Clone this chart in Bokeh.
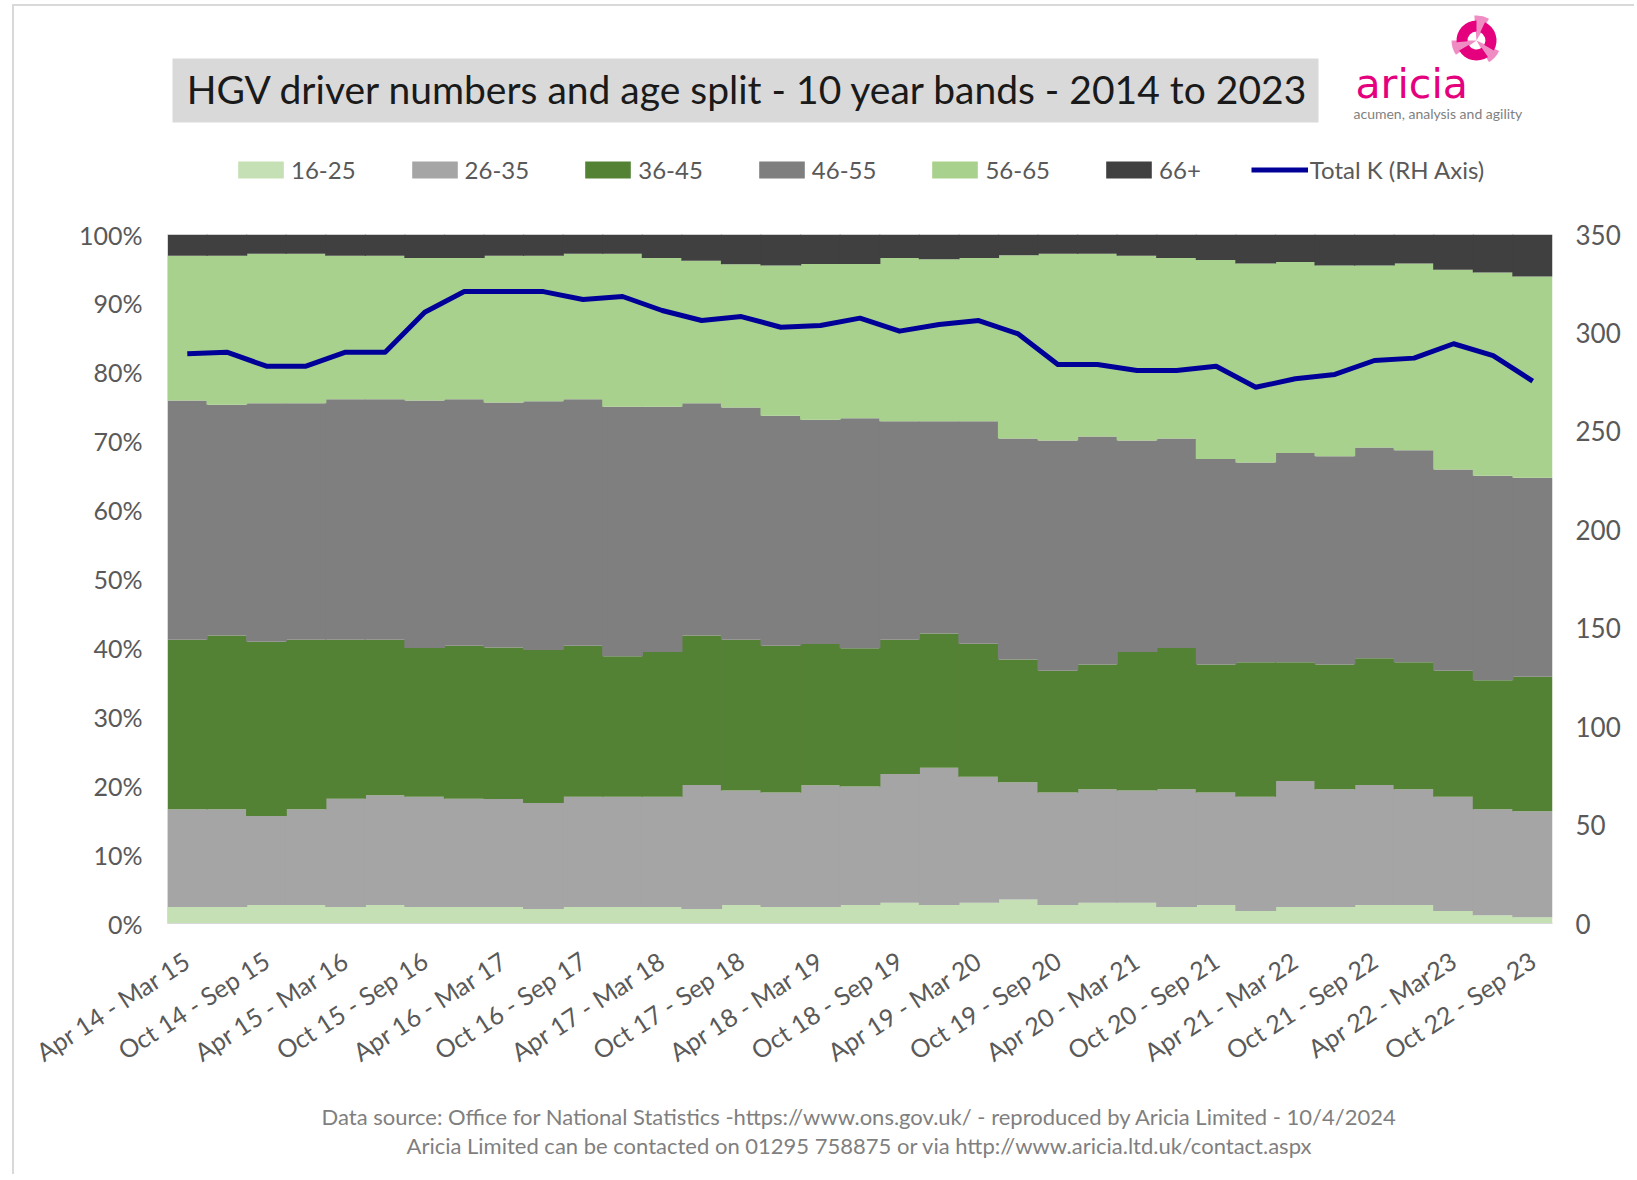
import math
from bokeh.plotting import figure
from bokeh.layouts import column
from bokeh.models import (ColumnDataSource, Range1d, LinearAxis, FixedTicker,
                          PrintfTickFormatter, Legend, LegendItem)
from bokeh.core.properties import value
from bokeh.embed import file_html
from bokeh.resources import INLINE

# ---------------- data ----------------
periods = ["Apr 14 - Mar 15", "Jul 14 - Jun 15", "Oct 14 - Sep 15", "Jan 15 - Dec 15",
           "Apr 15 - Mar 16", "Jul 15 - Jun 16", "Oct 15 - Sep 16", "Jan 16 - Dec 16",
           "Apr 16 - Mar 17", "Jul 16 - Jun 17", "Oct 16 - Sep 17", "Jan 17 - Dec 17",
           "Apr 17 - Mar 18", "Jul 17 - Jun 18", "Oct 17 - Sep 18", "Jan 18 - Dec 18",
           "Apr 18 - Mar 19", "Jul 18 - Jun 19", "Oct 18 - Sep 19", "Jan 19 - Dec 19",
           "Apr 19 - Mar 20", "Jul 19 - Jun 20", "Oct 19 - Sep 20", "Jan 20 - Dec 20",
           "Apr 20 - Mar 21", "Jul 20 - Jun 21", "Oct 20 - Sep 21", "Jan 21 - Dec 21",
           "Apr 21 - Mar 22", "Jul 21 - Jun 22", "Oct 21 - Sep 22", "Jan 22 - Dec 22",
           "Apr 22 - Mar23", "Jul 22 - Jun 23", "Oct 22 - Sep 23"]

age_16_25 = [2.4, 2.4, 2.7, 2.7, 2.4, 2.7, 2.4, 2.4, 2.4, 2.1, 2.4, 2.4, 2.4, 2.1, 2.7, 2.4, 2.4, 2.7,
             3.0, 2.7, 3.0, 3.5, 2.7, 3.0, 3.0, 2.4, 2.7, 1.8, 2.4, 2.4, 2.7, 2.7, 1.8, 1.2, 0.9]
age_26_35 = [14.2, 14.2, 12.9, 13.9, 15.7, 15.9, 16.0, 15.7, 15.7, 15.4, 16.0, 16.0, 16.0, 18.0, 16.6,
             16.6, 17.7, 17.2, 18.7, 19.9, 18.3, 17.0, 16.3, 16.5, 16.3, 17.1, 16.3, 16.6, 18.3, 17.1,
             17.4, 16.8, 16.6, 15.4, 15.4]
age_36_45 = [24.6, 25.2, 25.3, 24.6, 23.1, 22.6, 21.6, 22.2, 22.0, 22.2, 21.9, 20.4, 21.0, 21.7, 21.9,
             21.3, 20.5, 20.1, 19.5, 19.5, 19.3, 17.8, 17.7, 18.1, 20.1, 20.5, 18.6, 19.5, 17.2, 18.1,
             18.4, 18.4, 18.3, 18.7, 19.5]
age_46_55 = [34.7, 33.5, 34.6, 34.3, 34.9, 34.9, 35.9, 35.8, 35.6, 36.1, 35.8, 36.2, 35.6, 33.7, 33.7,
             33.4, 32.6, 33.4, 31.7, 30.8, 32.3, 32.1, 33.4, 33.1, 30.7, 30.4, 29.8, 29.0, 30.4, 30.2,
             30.6, 30.8, 29.2, 29.7, 28.9]
age_56_65 = [21.0, 21.6, 21.7, 21.7, 20.8, 20.8, 20.7, 20.5, 21.3, 21.1, 21.1, 22.2, 21.6, 20.7, 20.8,
             21.8, 22.6, 22.4, 23.7, 23.5, 23.7, 26.6, 27.1, 26.5, 26.8, 26.2, 28.9, 28.9, 27.7, 27.7,
             26.4, 27.1, 29.0, 29.5, 29.2]
age_66_plus = [3.1, 3.1, 2.8, 2.8, 3.1, 3.1, 3.4, 3.4, 3.1, 3.1, 2.8, 2.8, 3.4, 3.8, 4.3, 4.5, 4.3, 4.3,
               3.4, 3.6, 3.4, 3.0, 2.8, 2.8, 3.1, 3.4, 3.7, 4.2, 4.0, 4.5, 4.5, 4.2, 5.1, 5.5, 6.1]
total_k = [289.4, 290.2, 283.1, 283.1, 290.2, 290.2, 310.5, 321.0, 321.0, 321.0, 317.0, 318.5, 311.4,
           306.3, 308.3, 302.9, 303.8, 307.5, 300.9, 304.3, 306.3, 299.5, 284.0, 284.0, 280.9, 280.9,
           283.1, 272.4, 276.7, 278.9, 286.0, 287.2, 294.5, 288.5, 275.5]

band_names = ["16-25", "26-35", "36-45", "46-55", "56-65", "66+"]
band_values = [age_16_25, age_26_35, age_36_45, age_46_55, age_56_65, age_66_plus]
band_colors = ["#c5e0b4", "#a5a5a5", "#548235", "#7f7f7f", "#a9d18e", "#404040"]
line_label = "Total K (RH Axis)"
line_color = "#000099"
pct_ticks = [0, 10, 20, 30, 40, 50, 60, 70, 80, 90, 100]
k_ticks = [0, 50, 100, 150, 200, 250, 300, 350]

title_text = "HGV driver numbers and age split - 10 year bands - 2014 to 2023"
foot_1 = ("Data source: Office for National Statistics -https://www.ons.gov.uk/ - "
          "reproduced by Aricia Limited - 10/4/2024")
foot_2 = "Aricia Limited can be contacted on 01295 758875 or via http://www.aricia.ltd.uk/contact.aspx"

# ---------------- build (100% stacked) ----------------
n = len(periods)
data = {"x": list(range(n)), "total": total_k}
sums = [sum(v[i] for v in band_values) for i in range(n)]
for name, vals in zip(band_names, band_values):
    data[name] = [vals[i] / sums[i] * 100.0 for i in range(n)]
source = ColumnDataSource(data)

FONT = "Lato"
TICK_COL = "#595959"
W = 1620
HH, HM, HF = 194, 885, 89
FRAME_L, FRAME_R = 167, 1552   # page x of the (aligned) plot frames


def plain_fig(height):
    # x data units == page pixels (frames are aligned with the main chart frame)
    f = figure(width=W, height=height, output_backend="svg", toolbar_location=None,
               x_range=Range1d(FRAME_L, FRAME_R), y_range=Range1d(0, height),
               x_axis_type=None, y_axis_type=None,
               min_border_left=0, min_border_right=0, min_border_top=0, min_border_bottom=0,
               background_fill_color="white", border_fill_color="white")
    f.outline_line_color = None
    return f


# ---------------- header: title box, logo, legend (y data = 200 - page y) ----------------
hdr = plain_fig(HH)
hdr.quad(left=[172], right=[1318], top=[142], bottom=[78], fill_color="#d9d9d9", line_color=None)
hdr.text(x=[748], y=[112], text=[title_text], text_font=value(FONT), text_font_size="39px",
         text_color="#1a1a1a", text_align="center", text_baseline="middle")

# logo swirl
cx, cy = 1476, 160
hdr.wedge(x=[cx, cx, cx], y=[cy, cy, cy], radius=25,
          start_angle=[math.radians(a) for a in (60, 180, 300)],
          end_angle=[math.radians(a) for a in (95, 215, 335)],
          fill_color="#f08cc4", line_color=None)
hdr.annular_wedge(x=[cx, cx, cx], y=[cy, cy, cy], inner_radius=9, outer_radius=20,
                  start_angle=[math.radians(a) for a in (90, 210, 330)],
                  end_angle=[math.radians(a) for a in (185, 305, 425)],
                  fill_color="#e5007e", line_color=None)
hdr.text(x=[1355], y=[117], text=["aricia"], text_font=value("DejaVu Sans"), text_font_size="41px",
         text_color="#e5007e", text_align="left", text_baseline="alphabetic")
hdr.text(x=[1353], y=[87], text=["acumen, analysis and agility"], text_font=value(FONT),
         text_font_size="14px", text_color="#7f7f7f", text_align="left", text_baseline="middle")

# legend swatches (one hidden point each, off-frame, so the legend can draw them)
leg_rs = [hdr.vbar(x=[0], top=[0], bottom=[0], width=1, fill_color=c, line_color=None)
          for c in band_colors]
leg_line = hdr.line(x=[0, 1], y=[0, 0], line_color=line_color, line_width=5)
items = [LegendItem(label=nm, renderers=[r]) for nm, r in zip(band_names, leg_rs)]
items.append(LegendItem(label=line_label, renderers=[leg_line]))
legend = Legend(items=items, location=(65, 16), orientation="horizontal",
                glyph_width=57, glyph_height=21, label_standoff=2, spacing=50,
                padding=0, margin=0, border_line_color=None, background_fill_alpha=0,
                label_text_font=FONT, label_text_font_size="24px", label_text_color=TICK_COL)
hdr.add_layout(legend)

# ---------------- main chart ----------------
p = figure(width=W, height=HM, output_backend="svg", toolbar_location=None,
           x_range=Range1d(-0.5, n - 0.5), y_range=Range1d(0, 100),
           min_border_left=153, min_border_right=82, min_border_top=34, min_border_bottom=162,
           background_fill_color="white", border_fill_color="white")
p.outline_line_color = None
p.xgrid.visible = False
p.ygrid.visible = False
p.extra_y_ranges = {"k": Range1d(0, 350)}

p.vbar_stack(band_names, x="x", width=1.03, fill_color=band_colors, line_color=None, source=source)
p.line(x="x", y="total", source=source, y_range_name="k",
       line_color=line_color, line_width=5, line_join="round")

yax = p.yaxis[0]
yax.ticker = FixedTicker(ticks=pct_ticks)
yax.formatter = PrintfTickFormatter(format="%d%%")
yax.axis_line_color = "#d9d9d9"
yax.major_tick_line_color = None
yax.minor_tick_line_color = None
yax.major_tick_out = 0
yax.major_label_standoff = 25
yax.major_label_text_font = FONT
yax.major_label_text_font_size = "25px"
yax.major_label_text_color = TICK_COL

rax = LinearAxis(y_range_name="k", ticker=FixedTicker(ticks=k_ticks))
rax.axis_line_color = None
rax.major_tick_line_color = None
rax.minor_tick_line_color = None
rax.major_tick_out = 0
rax.major_label_standoff = 23
rax.major_label_text_font = FONT
rax.major_label_text_font_size = "26px"
rax.major_label_text_color = TICK_COL
p.add_layout(rax, "right")

xax = p.xaxis[0]
xax.ticker = FixedTicker(ticks=list(range(0, n, 2)))
xax.major_label_overrides = {i: periods[i] for i in range(0, n, 2)}
xax.major_label_orientation = math.radians(33)
xax.axis_line_color = "#d9d9d9"
xax.major_tick_line_color = None
xax.minor_tick_line_color = None
xax.major_tick_out = 0
xax.major_label_standoff = 34
xax.major_label_text_font = FONT
xax.major_label_text_font_size = "25px"
xax.major_label_text_color = TICK_COL

# ---------------- footer (y data = 1174 - page y) ----------------
ftr = plain_fig(HF)
ftr.text(x=[859, 859], y=[58, 29], text=[foot_1, foot_2], text_font=value(FONT),
         text_font_size="22px", text_color="#7f7f7f", text_align="center", text_baseline="middle")

layout = column(hdr, p, ftr, spacing=0)
layout.styles = {"margin-left": "12px", "margin-top": "4px",
                 "border-left": "2px solid #d9d9d9", "border-top": "2px solid #d9d9d9"}

open("out.html", "w").write(file_html(layout, INLINE))
